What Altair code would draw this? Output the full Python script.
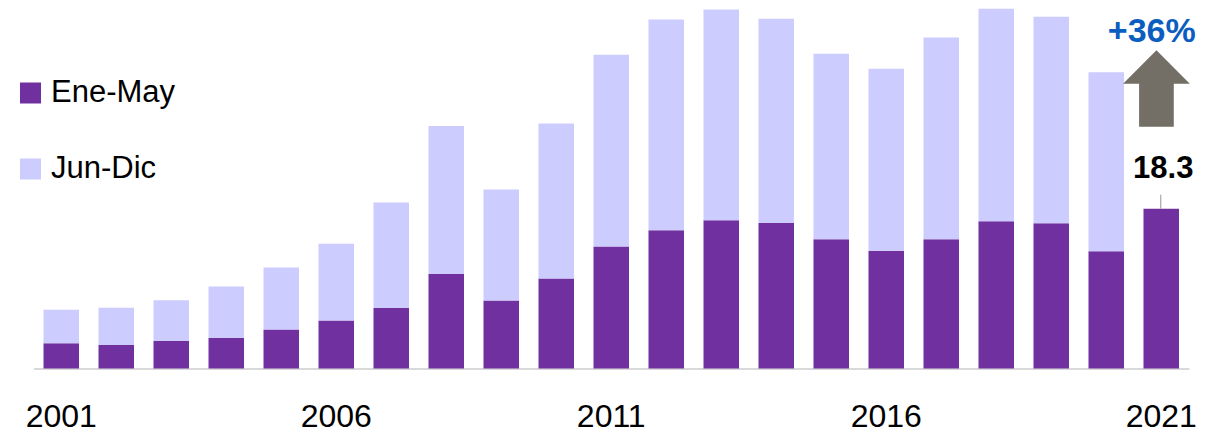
import altair as alt
import pandas as pd

years = list(range(2001, 2022))
ene_may = [2.88, 2.69, 3.14, 3.51, 4.47, 5.49, 6.92, 10.82, 7.79, 10.32, 13.99,
           15.84, 16.97, 16.67, 14.82, 13.49, 14.82, 16.86, 16.63, 13.42, 18.3]
jun_dic = [3.85, 4.27, 4.68, 5.87, 7.09, 8.80, 12.09, 16.96, 12.73, 17.76, 21.95,
           24.15, 24.15, 23.40, 21.23, 20.86, 23.09, 24.34, 23.67, 20.53]
series = ["Ene-May", "Jun-Dic"]
colors = ["#7030A0", "#CCCCFF"]
tick_years = [2001, 2006, 2011, 2016, 2021]

rows = []
for i, y in enumerate(years):
    rows.append({"year": y, "serie": series[0], "value": ene_may[i], "ord": 0})
    if i < len(jun_dic):
        rows.append({"year": y, "serie": series[1], "value": jun_dic[i], "ord": 1})
df = pd.DataFrame(rows)

pct = round((ene_may[-1] / ene_may[-2] - 1) * 100)
ann = pd.DataFrame([{"year": years[-1], "value": ene_may[-1],
                     "label": f"{ene_may[-1]:.1f}", "pct": f"+{pct}%"}])

FONT = "Liberation Sans"
xscale = alt.Scale(paddingInner=0.3545, paddingOuter=0.182)
yscale = alt.Scale(domain=[0, 41.3], nice=False, zero=True)

x = alt.X("year:O", scale=xscale,
          axis=alt.Axis(values=tick_years, labelAngle=0, ticks=False,
                        domainColor="#d9d9d9", domainWidth=2,
                        labelFontSize=32, labelFont=FONT, labelColor="black",
                        labelBaseline="alphabetic", labelPadding=57.5,
                        title=None, grid=False))

bars = alt.Chart(df).mark_bar().encode(
    x=x,
    y=alt.Y("sum(value):Q", scale=yscale, axis=None, stack="zero"),
    color=alt.Color("serie:N", scale=alt.Scale(domain=series, range=colors),
                    legend=alt.Legend(orient="none", legendX=-18.5, legendY=69.5,
                                      direction="vertical", title=None,
                                      symbolType="square", symbolSize=441,
                                      symbolStrokeWidth=0, symbolOpacity=1,
                                      labelFontSize=31, labelFont=FONT,
                                      labelColor="black", labelOffset=5,
                                      rowPadding=44, padding=0)),
    order=alt.Order("ord:Q", sort="ascending"),
)

base = alt.Chart(ann).encode(
    x=alt.X("year:O", scale=xscale),
    y=alt.Y("value:Q", scale=yscale),
)

leader = alt.Chart(ann).mark_rule(color="#a6a6a6", strokeWidth=1.2, xOffset=-0.5,
                                  y2Offset=-14).encode(
    x=alt.X("year:O", scale=xscale),
    y=alt.Y("value:Q", scale=yscale),
    y2=alt.Y2("value:Q"),
)

value_label = base.mark_text(font=FONT, fontSize=31, fontWeight="bold",
                             color="black", baseline="alphabetic",
                             align="center", dx=2, dy=-30.5).encode(text="label:N")

arrow_path = ("M 0 -1 L 0.873 -0.126 L 0.454 -0.126 L 0.454 1 "
              "L -0.454 1 L -0.454 -0.126 L -0.873 -0.126 Z")
arrow = base.mark_point(shape=arrow_path, filled=True, size=5837,
                        color="#736F67", opacity=1, strokeWidth=0,
                        xOffset=-4.8, yOffset=-120.3)

pct_label = base.mark_text(font=FONT, fontSize=34, fontWeight="bold",
                           color="#0B5EBF", baseline="alphabetic",
                           align="center", dx=-9.5, dy=-166.8).encode(text="pct:N")

chart = alt.layer(bars, leader, value_label, arrow, pct_label).properties(
    width=1155.5, height=360.5,
    padding={"left": 25.5, "top": 0, "right": 31, "bottom": 63.5},
    autosize=alt.AutoSizeParams(type="none"),
).configure_view(strokeWidth=0)

chart.save("out.html", embed_options={"renderer": "svg", "actions": False})
